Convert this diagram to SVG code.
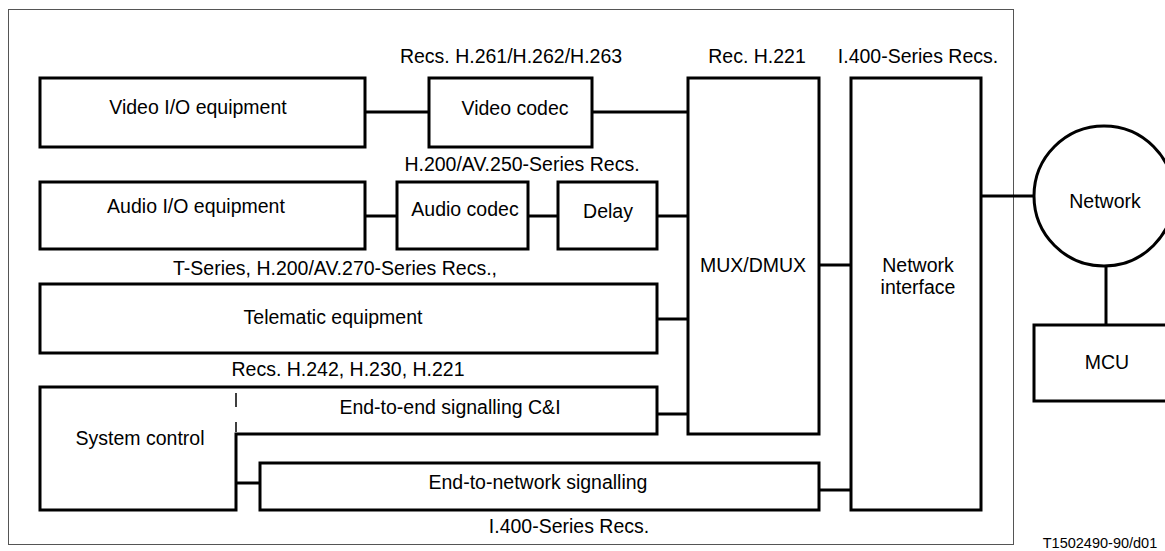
<svg xmlns="http://www.w3.org/2000/svg" width="1165" height="551" viewBox="0 0 1165 551">
<style>
.box{fill:#fff;stroke:#000;stroke-width:3;stroke-linejoin:miter}
.con{stroke:#000;stroke-width:3;fill:none}
text{font-family:"Liberation Sans",Arial,sans-serif;font-size:19.5px;fill:#000;text-anchor:middle}
.small{font-size:14.5px}
</style>
<rect x="0" y="0" width="1165" height="551" fill="#fff"/>
<rect id="frame" x="8.5" y="9.5" width="1005" height="535" fill="none" stroke="#555" stroke-width="1"/>
<g id="connectors">
<line class="con" x1="365" y1="112" x2="429" y2="112"/>
<line class="con" x1="592" y1="112" x2="688" y2="112"/>
<line class="con" x1="365" y1="216" x2="397" y2="216"/>
<line class="con" x1="528" y1="216" x2="558" y2="216"/>
<line class="con" x1="657" y1="216" x2="688" y2="216"/>
<line class="con" x1="657" y1="319" x2="688" y2="319"/>
<line class="con" x1="657" y1="414" x2="688" y2="414"/>
<line class="con" x1="819" y1="265" x2="851" y2="265"/>
<line class="con" x1="236" y1="483" x2="260" y2="483"/>
<line class="con" x1="819" y1="490" x2="851" y2="490"/>
<line class="con" x1="981" y1="196" x2="1034" y2="196"/>
<line class="con" x1="1106" y1="265" x2="1106" y2="325"/>
</g>
<g id="video-io"><rect class="box" x="40" y="78" width="325" height="69"/><text x="198" y="114">Video I/O equipment</text></g>
<g id="video-codec"><rect class="box" x="429" y="78" width="163" height="69"/><text x="515" y="115">Video codec</text></g>
<g id="audio-io"><rect class="box" x="40" y="182" width="325" height="67"/><text x="196" y="213">Audio I/O equipment</text></g>
<g id="audio-codec"><rect class="box" x="397" y="182" width="131" height="67"/><text x="465" y="216">Audio codec</text></g>
<g id="delay"><rect class="box" x="558" y="182" width="99" height="67"/><text x="608" y="218">Delay</text></g>
<g id="telematic"><rect class="box" x="40" y="284" width="617" height="69"/><text x="333" y="324">Telematic equipment</text></g>
<g id="system-control"><path class="box" d="M40,387 H657 V434 H236 V510 H40 Z"/><line x1="236" y1="393" x2="236" y2="432" stroke="#000" stroke-width="1.5" stroke-dasharray="14,15"/><text x="140" y="445">System control</text><text x="450" y="414">End-to-end signalling C&amp;I</text></g>
<g id="end-to-network"><rect class="box" x="260" y="463" width="559" height="47"/><text x="538" y="489">End-to-network signalling</text></g>
<g id="mux"><rect class="box" x="688" y="78" width="131" height="356"/><text x="753" y="272">MUX/DMUX</text></g>
<g id="network-interface"><rect class="box" x="851" y="78" width="130" height="432"/><text x="918" y="272">Network</text><text x="918" y="294">interface</text></g>
<g id="network"><circle class="box" cx="1104" cy="196" r="70"/><text x="1105" y="208">Network</text></g>
<g id="mcu"><rect class="box" x="1034" y="325" width="140" height="76"/><text x="1107" y="369">MCU</text></g>
<g id="labels">
<text x="511" y="63">Recs. H.261/H.262/H.263</text>
<text x="757" y="63">Rec. H.221</text>
<text x="918" y="63">I.400-Series Recs.</text>
<text x="522" y="171">H.200/AV.250-Series Recs.</text>
<text x="335" y="275">T-Series, H.200/AV.270-Series Recs.,</text>
<text x="348" y="376">Recs. H.242, H.230, H.221</text>
<text x="569" y="533">I.400-Series Recs.</text>
<text class="small" x="1100" y="548">T1502490-90/d01</text>
</g>
</svg>
